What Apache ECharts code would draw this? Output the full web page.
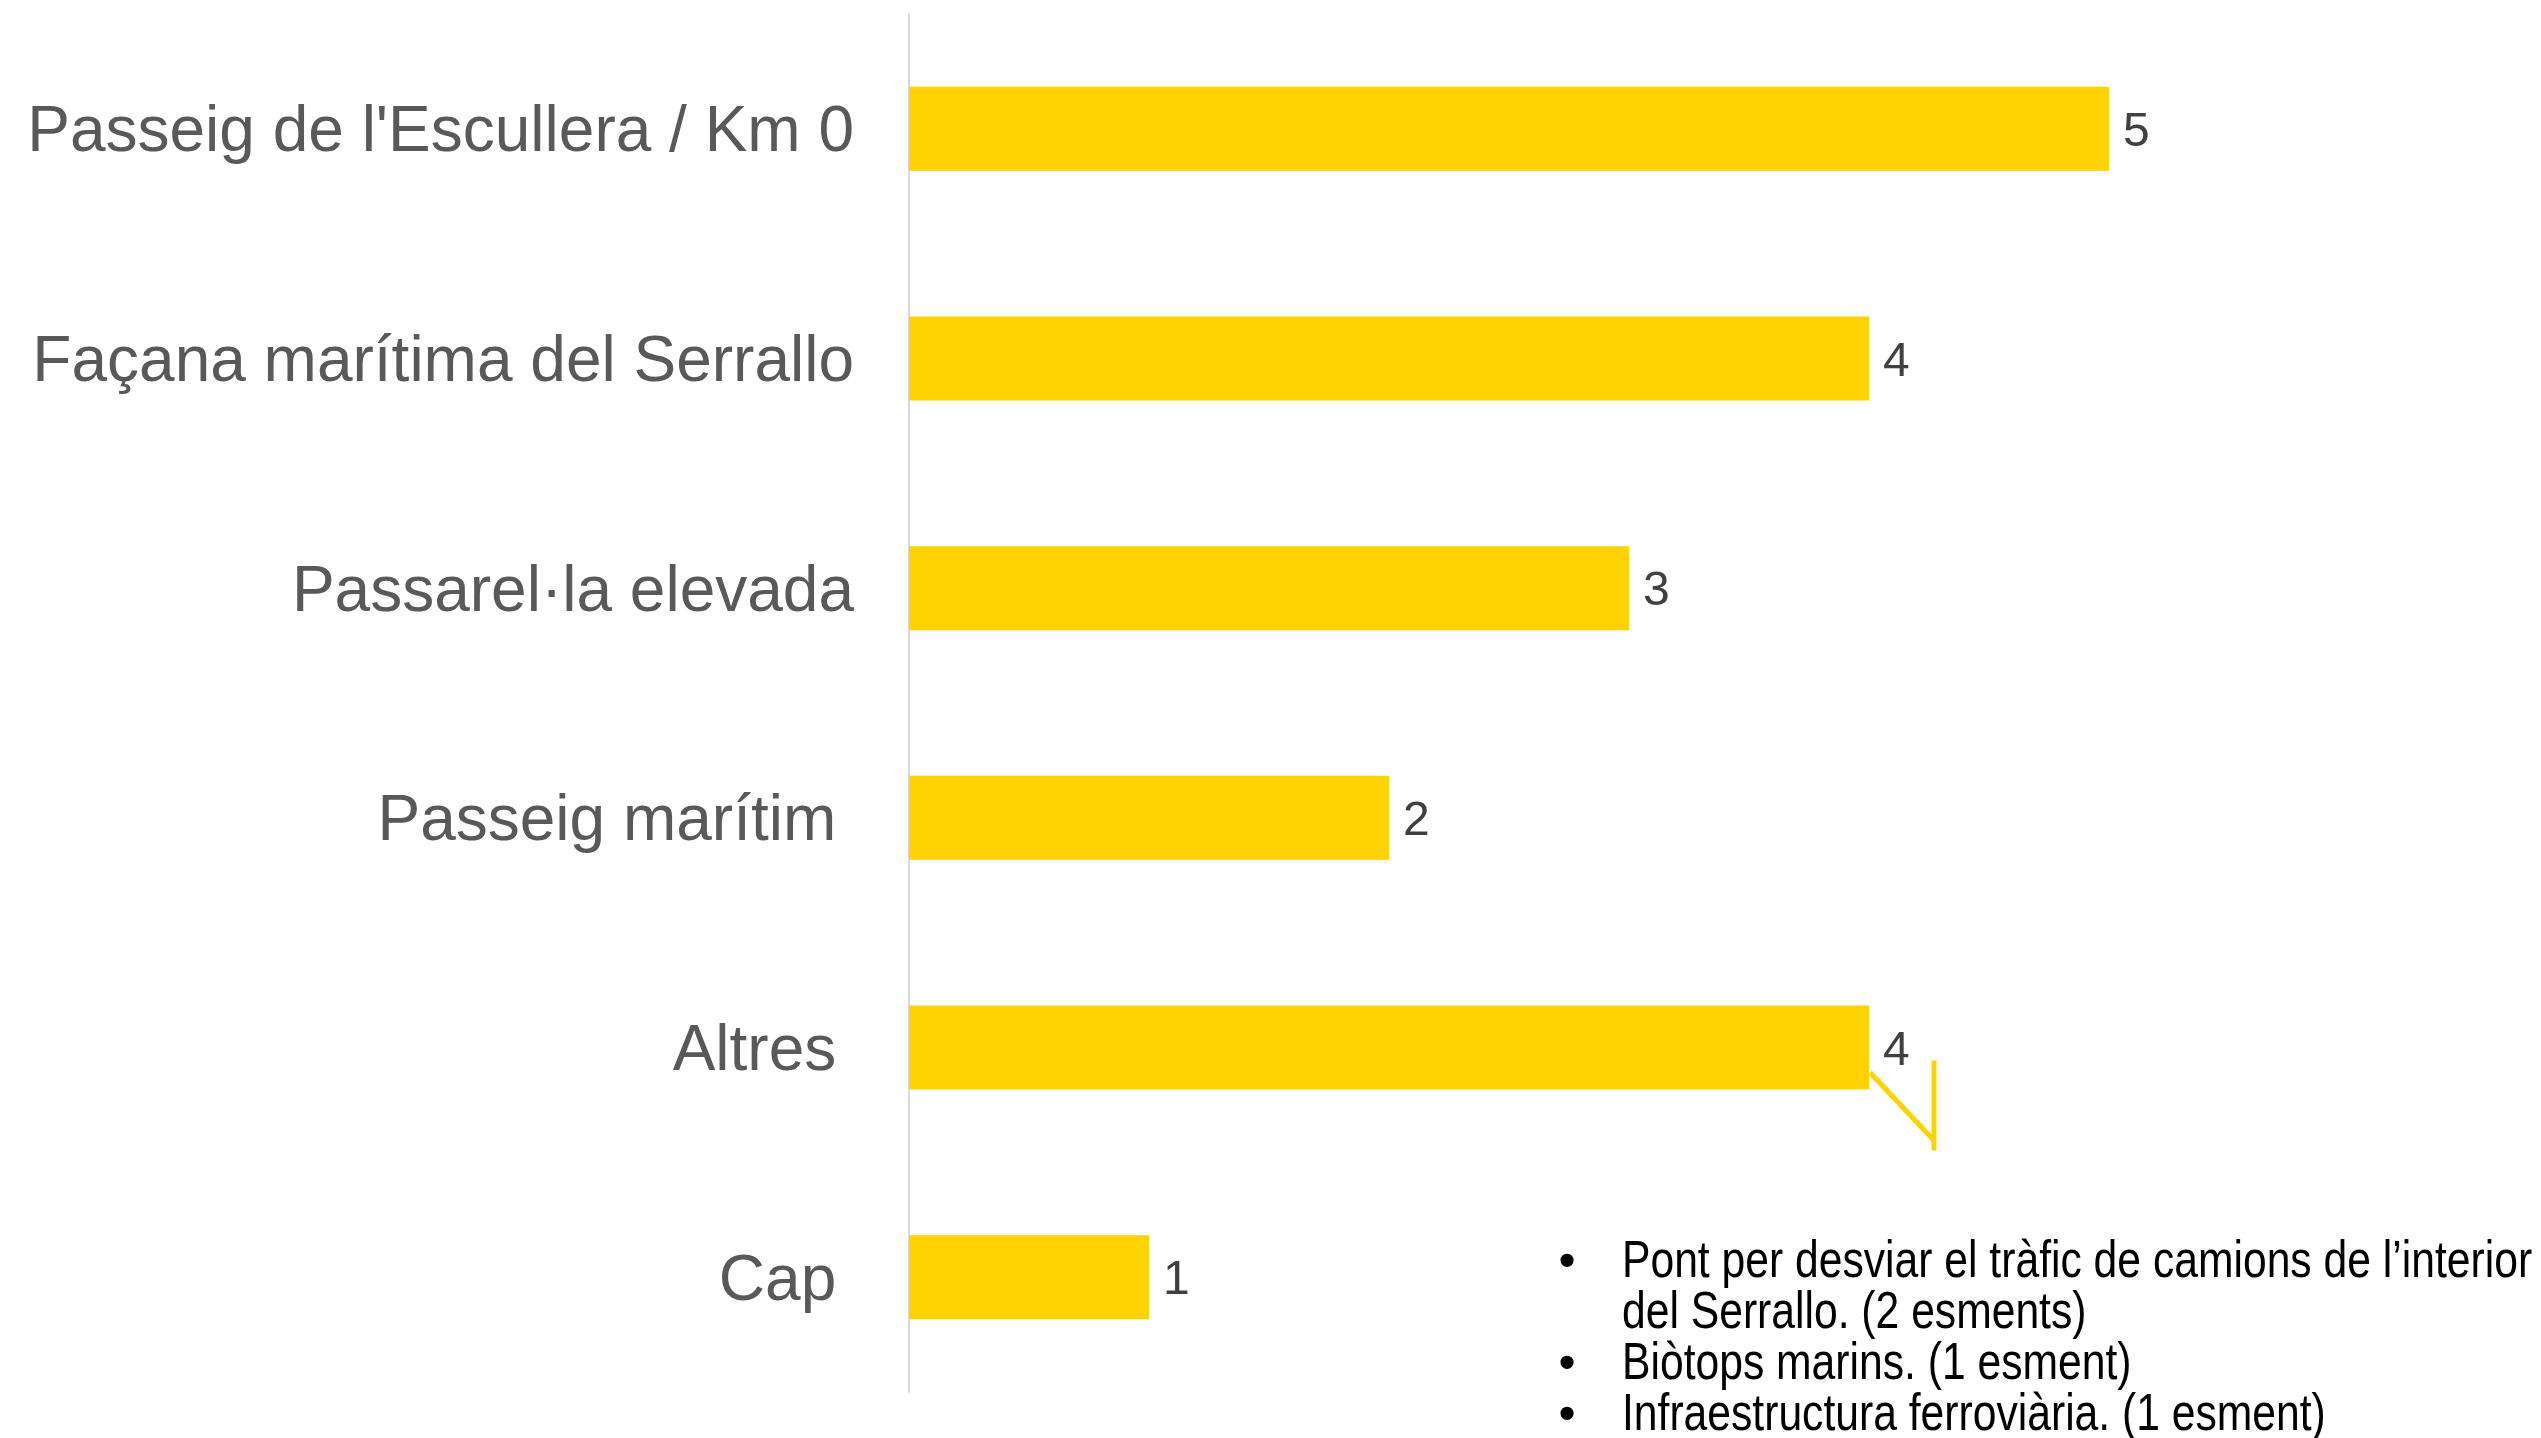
<!DOCTYPE html>
<html>
<head>
<meta charset="utf-8">
<script src="https://cdn.jsdelivr.net/npm/echarts@6/dist/echarts.min.js"></script>
<style>
	html, body { margin: 0; padding: 0; background: #fff; }
	#chart { width: 2541px; height: 1438px; }
</style>
</head>
<body>
<div id="chart"></div>
<script>
// categories top to bottom (trailing spaces as in the original labels)
const categories = ["Passeig de l'Escullera / Km 0", 'Façana marítima del Serrallo', 'Passarel·la elevada', 'Passeig marítim ', 'Altres ', 'Cap ']
const values = [5, 4, 3, 2, 4, 1]
const noteLines = ['Pont per desviar el tràfic de camions de l’interior', 'del Serrallo. (2 esments)', 'Biòtops marins. (1 esment)', 'Infraestructura ferroviària. (1 esment)']
const noteBullets = [true, false, true, true]

const yellow = '#FFD200'
const chart = echarts.init(document.getElementById('chart'))

chart.setOption({
	animation: false,
	grid: {
		left: 909,
		top: 14,
		width: 1440,
		bottom: 46
	},
	xAxis: {
		type: 'value',
		min: 0,
		max: 6,
		show: false
	},
	yAxis: {
		type: 'category',
		inverse: true,
		data: categories,
		axisLine: {
			show: true,
			lineStyle: { color: '#d9d9d9', width: 2 }
		},
		axisTick: { show: false },
		axisLabel: {
			margin: 55,
			fontSize: 64,
			// small line box hung from the tick: nudges text a few px down
			verticalAlign: 'top',
			lineHeight: 10,
			fontFamily: 'Liberation Sans, Arial, sans-serif',
			color: '#595959'
		}
	},
	series: [
		{
			type: 'bar',
			data: values,
			barWidth: 84,
			itemStyle: { color: yellow },
			label: {
				show: true,
				position: 'right',
				distance: 14,
				fontSize: 48,
				verticalAlign: 'top',
				lineHeight: 8,
				fontFamily: 'Liberation Sans, Arial, sans-serif',
				color: '#404040'
			}
		}
	]
})

// bracket annotation next to the "Altres" bar, anchored to the bar end
const p = chart.convertToPixel({ gridIndex: 0 }, [values[4], categories[4]])
const graphics = [
	{
		type: 'polyline',
		shape: { points: [[p[0] + 1, p[1] + 25], [p[0] + 65, p[1] + 93]] },
		style: { stroke: yellow, lineWidth: 5, fill: null }
	},
	{
		type: 'line',
		shape: { x1: p[0] + 65, y1: p[1] + 13, x2: p[0] + 65, y2: p[1] + 103 },
		style: { stroke: yellow, lineWidth: 5 }
	}
]

// bullet note text, bottom right (narrow face emulated by horizontal scaling)
noteLines.forEach((line, i) => {
	const y = 1263 + i * 51
	if (noteBullets[i]) {
		graphics.push({
			type: 'text',
			x: 1567,
			y: y,
			style: {
				text: '•',
				font: 'bold 46px "Liberation Sans", Arial, sans-serif',
				fill: '#000',
				textAlign: 'center', textVerticalAlign: 'middle',
				align: 'center', verticalAlign: 'middle'
			}
		})
	}
	graphics.push({
		type: 'text',
		x: 1622,
		y: y,
		scaleX: 0.82,
		style: {
			text: line,
			font: '52px "Liberation Sans", Arial, sans-serif',
			fill: '#000',
			textAlign: 'left', textVerticalAlign: 'middle',
			align: 'left', verticalAlign: 'middle'
		}
	})
})

chart.setOption({ graphic: graphics })
</script>
</body>
</html>
